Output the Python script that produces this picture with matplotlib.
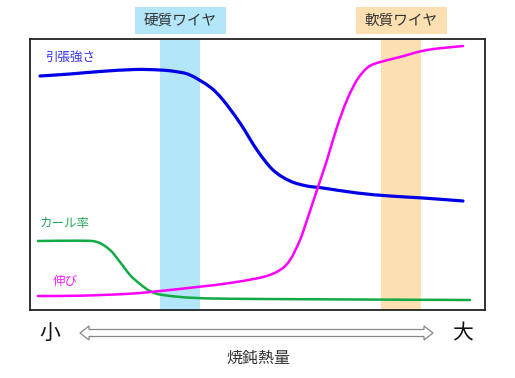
import matplotlib
matplotlib.use("Agg")
import matplotlib.pyplot as plt
from matplotlib.patches import Rectangle, Polygon, PathPatch
from matplotlib.path import Path
from matplotlib.transforms import blended_transform_factory

plt.rcParams['font.family'] = ['Noto Sans CJK JP', 'DejaVu Sans']

# annealing heat (x) and relative property value (y)
strength_x = [10, 40, 70, 105, 130, 145, 160, 180, 193, 210, 227, 243, 260, 277, 293, 327, 360, 393, 433]
strength_y = [234, 236, 238.5, 240.5, 240, 238.5, 235, 223, 210, 187, 160, 140, 129, 124, 122, 117, 114, 112, 109]

elong_x = [8, 50, 100, 133, 167, 200, 233, 250, 260, 270, 277, 287, 297, 307, 317, 327, 337, 347, 370, 397, 433]
elong_y = [14, 14.3, 16.3, 19.3, 23, 27, 33, 40, 50, 70, 90, 120, 150, 183, 210, 230, 242, 247, 253, 260, 264]

curl_x = [8, 50, 67, 80, 90, 100, 110, 120, 133, 167, 233, 440]
curl_y = [69, 69.3, 68, 60, 48, 35, 26, 19, 15, 12, 11, 10]

hard_band = (130, 170)
soft_band = (351, 391)
hard_label = "硬質ワイヤ"
soft_label = "軟質ワイヤ"

W, H = 515, 378
fig = plt.figure(figsize=(W / 100, H / 100), dpi=100)
ax = fig.add_axes([30 / W, (H - 310) / H, 455 / W, 271 / H])
ax.set_xlim(0, 455)
ax.set_ylim(0, 271)
ax.set_xticks([])
ax.set_yticks([])
for s in ax.spines.values():
    s.set_color('#222222')
    s.set_linewidth(1.3)

ax.axvspan(*hard_band, color='#b3e6f8', zorder=0, lw=0)
ax.axvspan(*soft_band, color='#fde0b2', zorder=0, lw=0)

trans = blended_transform_factory(ax.transData, ax.transAxes)
for (a, b), lab, col in [(hard_band, hard_label, '#b3e6f8'), (soft_band, soft_label, '#fde0b2')]:
    c = (a + b) / 2
    ax.add_patch(Rectangle((c - 45.5, 1.0185), 91, 0.0995, transform=trans,
                           facecolor=col, edgecolor='none', clip_on=False))
    ax.text(c, 1.068, lab, transform=trans, ha='center', va='center',
            fontsize=10.5, color='#333333', clip_on=False)


def smooth_curve(xs, ys, color, lw, z):
    """Draw the read points joined by Bezier segments (Catmull-Rom tangents)."""
    pts = list(zip(xs, ys))
    verts = [pts[0]]
    codes = [Path.MOVETO]
    n = len(pts)
    for i in range(n - 1):
        p0 = pts[max(i - 1, 0)]
        p1 = pts[i]
        p2 = pts[i + 1]
        p3 = pts[min(i + 2, n - 1)]
        c1 = (p1[0] + (p2[0] - p0[0]) / 6, p1[1] + (p2[1] - p0[1]) / 6)
        c2 = (p2[0] - (p3[0] - p1[0]) / 6, p2[1] - (p3[1] - p1[1]) / 6)
        verts += [c1, c2, p2]
        codes += [Path.CURVE4] * 3
    ax.add_patch(PathPatch(Path(verts, codes), facecolor='none', edgecolor=color,
                           lw=lw, capstyle='round', joinstyle='round', zorder=z))


smooth_curve(strength_x, strength_y, '#0000e6', 2.3, 3)
smooth_curve(elong_x, elong_y, '#ff00ff', 1.8, 3)
smooth_curve(curl_x, curl_y, '#11aa44', 1.8, 2)

ax.text(15, 253, "引張強さ", color='#3333ee', fontsize=9, va='center')
ax.text(10, 87, "カール率", color='#22aa55', fontsize=9, va='center')
ax.text(23, 29, "伸び", color='#ff22ff', fontsize=9, va='center')

# bottom labels
fig.text(50 / W, 1 - 333 / H, "小", fontsize=15, color='#111111', ha='center', va='center')
fig.text(463 / W, 1 - 333 / H, "大", fontsize=15, color='#111111', ha='center', va='center')
fig.text(258 / W, 1 - 358 / H, "焼鈍熱量", fontsize=11.5, color='#333333', ha='center', va='center')

# hollow double arrow (pixel coords)
x0, x1, yc, sh, hh, hl = 80, 433, 333, 3.5, 7, 9
pts = [(x0, yc), (x0 + hl, yc - hh), (x0 + hl, yc - sh), (x1 - hl, yc - sh), (x1 - hl, yc - hh),
       (x1, yc), (x1 - hl, yc + hh), (x1 - hl, yc + sh), (x0 + hl, yc + sh), (x0 + hl, yc + hh)]
pts = [(px / W, 1 - py / H) for px, py in pts]
fig.patches.append(Polygon(pts, closed=True, transform=fig.transFigure, facecolor='white',
                           edgecolor='#888888', lw=0.9))

fig.savefig("out.png", dpi=100)
